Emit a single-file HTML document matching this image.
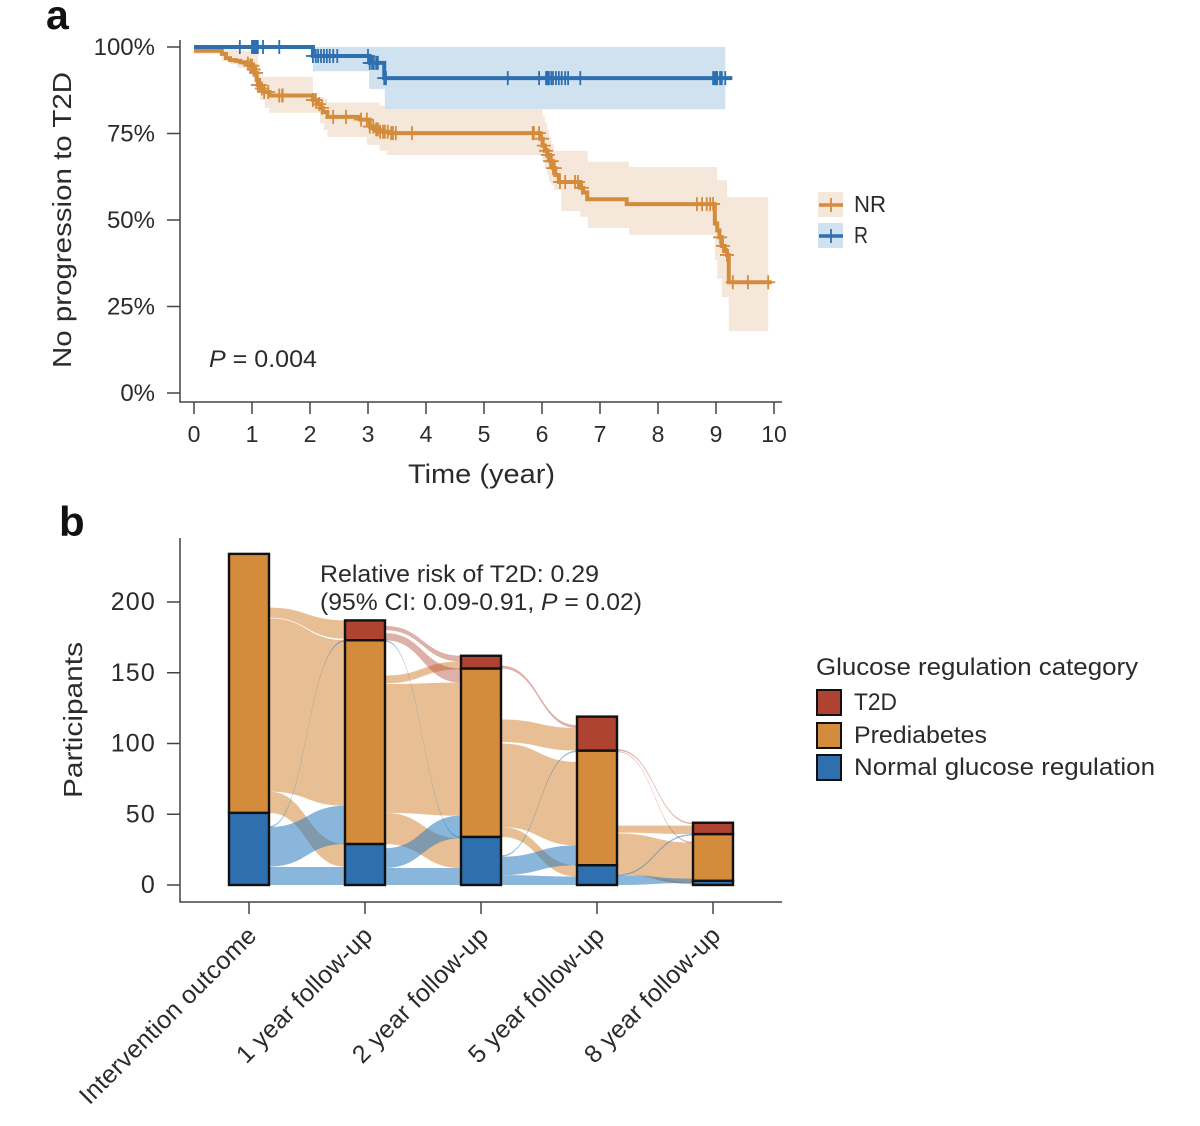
<!DOCTYPE html>
<html>
<head>
<meta charset="utf-8">
<title>T2D progression figure</title>
<style>
html,body{margin:0;padding:0;background:#fff;}
svg{display:block;filter:blur(0.35px);}
text{font-family:"Liberation Sans",sans-serif;fill:#2b2b2b;}
</style>
</head>
<body>
<svg id="fig" xmlns="http://www.w3.org/2000/svg" width="1200" height="1126" viewBox="0 0 1200 1126">
  <rect width="1200" height="1126" fill="#fff"/>
  <g id="bandsA"></g>
  <g id="linesA"></g>
  <g id="axesA"></g>
  <g id="flowsB"></g>
  <g id="barsB"></g>
  <g id="axesB"></g>

  <text x="46" y="29" font-size="41" font-weight="bold" style="fill:#111">a</text>
  <text x="59" y="536" font-size="42" font-weight="bold" style="fill:#111">b</text>

  <text transform="translate(71,368) rotate(-90)" font-size="26" textLength="296" lengthAdjust="spacingAndGlyphs">No progression to T2D</text>
  <text x="408" y="483" font-size="27" textLength="147" lengthAdjust="spacingAndGlyphs">Time (year)</text>
  <text x="209" y="367" font-size="24" textLength="108" lengthAdjust="spacingAndGlyphs"><tspan font-style="italic">P</tspan> = 0.004</text>

  <g>
    <g>
      <rect x="818" y="192" width="25" height="25" fill="#f5e8da"/>
      <line x1="819" y1="205" x2="843" y2="205" stroke="#d58b3c" stroke-width="3.6"/>
      <line x1="831" y1="198" x2="831" y2="212" stroke="#d58b3c" stroke-width="1.8"/>
      <text x="854" y="212" font-size="23" textLength="32" lengthAdjust="spacingAndGlyphs">NR</text>
    </g>
    <g>
      <rect x="818" y="223" width="25" height="25" fill="#d0e1ef"/>
      <line x1="819" y1="236" x2="843" y2="236" stroke="#2e6fb0" stroke-width="3.6"/>
      <line x1="831" y1="229" x2="831" y2="243" stroke="#2e6fb0" stroke-width="1.8"/>
      <text x="854" y="243" font-size="23" textLength="14" lengthAdjust="spacingAndGlyphs">R</text>
    </g>
  </g>

  <text transform="translate(82,798) rotate(-90)" font-size="26" textLength="156" lengthAdjust="spacingAndGlyphs">Participants</text>
  <text x="320" y="582" font-size="24" textLength="279" lengthAdjust="spacingAndGlyphs">Relative risk of T2D: 0.29</text>
  <text x="320" y="610" font-size="24" textLength="322" lengthAdjust="spacingAndGlyphs">(95% CI: 0.09-0.91, <tspan font-style="italic">P</tspan> = 0.02)</text>

  <g>
    <text x="816" y="675" font-size="24" textLength="322" lengthAdjust="spacingAndGlyphs">Glucose regulation category</text>
    <g>
      <rect x="817" y="690" width="24" height="25" fill="#ae4331" stroke="#111" stroke-width="2"/>
      <text x="854" y="710" font-size="24" textLength="43" lengthAdjust="spacingAndGlyphs">T2D</text>
    </g>
    <g>
      <rect x="817" y="723" width="24" height="25" fill="#d58b3c" stroke="#111" stroke-width="2"/>
      <text x="854" y="743" font-size="24" textLength="133" lengthAdjust="spacingAndGlyphs">Prediabetes</text>
    </g>
    <g>
      <rect x="817" y="755" width="24" height="25" fill="#2e6fb0" stroke="#111" stroke-width="2"/>
      <text x="854" y="775" font-size="24" textLength="301" lengthAdjust="spacingAndGlyphs">Normal glucose regulation</text>
    </g>
  </g>
</svg>

<script>
// ---------- Panel a data ----------
const timeTicks = [0,1,2,3,4,5,6,7,8,9,10];
const pctTicks = [0,25,50,75,100];
const nrStepTime = [0,0.48,0.55,0.62,0.72,0.80,0.90,0.97,1.02,1.05,1.08,1.10,1.15,1.20,1.30,2.05,2.12,2.18,2.22,2.30,2.86,3.03,3.12,3.20,3.38,5.97,6.01,6.05,6.10,6.14,6.19,6.23,6.29,6.66,6.71,6.78,7.46,8.98,9.02,9.06,9.10,9.15,9.19,9.22];
const nrStepSurv = [98.9,98,96.8,96.2,96,95.6,95.2,94.6,93.5,92.5,90.5,89,88,87,86,84.7,83.5,82.4,81.2,79.8,79,77,76.2,75.5,75.1,73.5,71.5,70,68.8,67,65,63,61,59.3,58,56,54.6,49,47,45,42.5,41,39.9,32];
const nrEnd = 9.96;
const nrBandTime = [0,0.48,0.62,0.75,1.0,1.10,1.14,1.22,1.30,2.05,2.17,2.24,2.3,2.98,3.2,3.33,5.97,6.01,6.05,6.09,6.12,6.16,6.21,6.33,6.66,6.79,7.5,8.98,9.02,9.10,9.19,9.22];
const nrBandUpper = [100,100,99.5,99,98,95,91.4,91.4,91.4,85.5,85.5,85,84,84,83,82,82,80,78,76,74,72,70,70,70,66.8,65.3,65.3,61.5,61.5,56.6,56.6];
const nrBandLower = [98,96,95,94,91,87,84.7,82.4,81,81,78,76,74,71.7,70,68.8,68.8,67,65,63,61,60,58.7,52.6,50.9,47.7,45.7,38.4,33,27.7,27.7,17.9];
const nrBandEnd = 9.9;
const nrCensor = [0.93,0.97,1.0,1.03,1.07,1.10,1.14,1.17,1.21,1.28,1.47,1.52,1.53,2.05,2.10,2.16,2.21,2.40,2.62,2.88,2.98,3.03,3.09,3.14,3.17,3.21,3.26,3.29,3.34,3.40,3.43,3.48,3.76,5.84,5.86,5.95,6.0,6.03,6.07,6.10,6.14,6.17,6.19,6.22,6.31,6.40,6.57,6.62,6.69,8.67,8.76,8.84,8.90,8.95,9.07,9.12,9.19,9.29,9.55,9.90];

const rStepTime = [0,2.05,3.03,3.28];
const rStepSurv = [100,97.4,95.4,91];
const rEnd = 9.28;
const rBandTime = [2.05,3.02,3.29];
const rBandUpper = [100,100,100];
const rBandLower = [93,87.9,82];
const rBandEnd = 9.16;
const rCensor = [0.79,1.0,1.02,1.03,1.05,1.07,1.09,1.10,1.19,1.47,2.05,2.10,2.14,2.19,2.24,2.29,2.34,2.40,2.47,3.0,3.03,3.07,3.10,3.14,3.17,3.28,3.31,5.41,5.95,6.07,6.09,6.10,6.12,6.16,6.19,6.24,6.29,6.34,6.40,6.45,6.66,8.95,8.98,9.0,9.02,9.07,9.10,9.16];

// ---------- Panel b data ----------
const stageLabels = ['Intervention outcome','1 year follow-up','2 year follow-up','5 year follow-up','8 year follow-up'];
const countTicks = [0,50,100,150,200];
const normalCounts = [51,29,34,14,3];
const prediabetesCounts = [183,144,119,81,33];
const t2dCounts = [0,14,9,24,8];

// flows in participant-axis units: starting stage, category, source span, target span
const flowStage =  [0,0,0, 1,1,1,1, 2,2,2, 3,3,3,3,  0,0, 1,1, 2,2, 3, 1,1, 2, 3,3, 0,1,2,3];
const flowCat =    ['p','p','p', 'p','p','p','p', 'p','p','p', 'p','p','p','p',  'n','n', 'n','n', 'n','n', 'n', 'r','r', 'r','r','r', 'l','l','l','l'];
const flowSrcTop = [196,188.5,66, 148,142,51,143, 117,100,41, 42,36.5,16,9,  41,12.7, 26,12, 20,7, 7, 183,178, 155,96,94.5, 41.5,173,21,7.5];
const flowSrcBot = [189,66,51, 143,51,29,142.5, 101,41,34, 37,16,9,7.5,  13,0, 12,0, 7,0, 0, 180,173, 153,95,94, 40.5,172,20,6.5];
const flowDstTop = [187,173,29, 158,143,33,153, 111,87,14, 42,30,4,2,  56,12.7, 49,12, 28,6, 4.5, 162,153, 113,44,30.5, 173,34,95,36];
const flowDstBot = [174,56,13, 153,49,12,152.5, 95,28,6, 36,4,1,0.5,  29,0, 33,0, 14,0, 1.5, 158,143, 111,43,29.5, 172,33,94,35];

// ---------- Scales ----------
const NS = 'http://www.w3.org/2000/svg';
const xA = t => 194 + 58 * t;
const yA = p => 393 - 3.46 * p;
const xB = i => 249 + 116 * i;
const yB = v => 885 - 1.415 * v;
const BAR_W = 40;

function make(parent, tag, props) {
  const el = document.createElementNS(NS, tag);
  for (const k in props) el.setAttribute(k, props[k]);
  parent.appendChild(el);
  return el;
}
const bandsA = document.getElementById('bandsA');
const linesA = document.getElementById('linesA');
const axesA = document.getElementById('axesA');
const flowsB = document.getElementById('flowsB');
const barsB = document.getElementById('barsB');
const axesB = document.getElementById('axesB');
const AXIS = '#444';

// ---------- Panel a ----------
function bandPath(times, upper, lower, end) {
  let d = 'M' + xA(times[0]) + ',' + yA(upper[0]);
  for (let i = 1; i < times.length; i++) {
    d += 'H' + xA(times[i]) + 'V' + yA(upper[i]);
  }
  d += 'H' + xA(end) + 'V' + yA(lower[lower.length - 1]);
  for (let i = times.length - 1; i > 0; i--) {
    d += 'H' + xA(times[i]) + 'V' + yA(lower[i - 1]);
  }
  d += 'H' + xA(times[0]) + 'Z';
  return d;
}
function stepPath(times, surv, end) {
  let d = 'M' + xA(times[0]) + ',' + yA(surv[0]);
  for (let i = 1; i < times.length; i++) {
    d += 'H' + xA(times[i]) + 'V' + yA(surv[i]);
  }
  return d + 'H' + xA(end);
}
function survAt(t, times, surv) {
  let s = surv[0];
  for (let i = 0; i < times.length; i++) if (times[i] <= t) s = surv[i];
  return s;
}

const nrBand = make(bandsA, 'path', {d: bandPath(nrBandTime, nrBandUpper, nrBandLower, nrBandEnd), fill: '#f5e8da'});


const rBand = make(bandsA, 'path', {d: bandPath(rBandTime, rBandUpper, rBandLower, rBandEnd), fill: '#d0e1ef'});



function drawCensor(list, times, surv, color, name) {
  for (const t of list) {
    const s = survAt(t, times, surv);
    const mark = make(linesA, 'path', {
      d: 'M' + xA(t) + ',' + (yA(s) - 7) + 'v14M' + (xA(t) - 7) + ',' + yA(s) + 'h14',
      stroke: color, 'stroke-width': 1.8, fill: 'none'
    });
    
    
  }
}
drawCensor(nrCensor, nrStepTime, nrStepSurv, '#d58b3c', 'nr-censor-mark');
const nrLine = make(linesA, 'path', {d: stepPath(nrStepTime, nrStepSurv, nrEnd), fill: 'none', stroke: '#d58b3c', 'stroke-width': 4});


drawCensor(rCensor, rStepTime, rStepSurv, '#2e6fb0', 'r-censor-mark');
const rLine = make(linesA, 'path', {d: stepPath(rStepTime, rStepSurv, rEnd), fill: 'none', stroke: '#2e6fb0', 'stroke-width': 4});



const yAxisA = make(axesA, 'line', {x1: 180, y1: 40, x2: 180, y2: 402, stroke: AXIS, 'stroke-width': 1.5});


const xAxisA = make(axesA, 'line', {x1: 179.3, y1: 402, x2: 782, y2: 402, stroke: AXIS, 'stroke-width': 1.5});


for (const p of pctTicks) {
  const tick = make(axesA, 'line', {x1: 167, y1: yA(p), x2: 180, y2: yA(p), stroke: AXIS, 'stroke-width': 1.5});
  
  
  const label = make(axesA, 'text', {x: 155, y: yA(p) + 8, 'text-anchor': 'end', 'font-size': 24});
  
  
  label.textContent = p + '%';
}
for (const t of timeTicks) {
  const tick = make(axesA, 'line', {x1: xA(t), y1: 402, x2: xA(t), y2: 414, stroke: AXIS, 'stroke-width': 1.5});
  
  
  const label = make(axesA, 'text', {x: xA(t), y: 442, 'text-anchor': 'middle', 'font-size': 23});
  
  
  label.textContent = t;
}

// ---------- Panel b ----------
const flowFill = {
  p: {fill: '#d58b3c', op: 0.55},
  n: {fill: '#2a7abd', op: 0.55},
  r: {fill: '#ae4331', op: 0.42},
  l: {fill: '#2a7abd', op: 0.5}
};
const flowNames = {p: 'prediabetes-flow', n: 'normal-flow', r: 't2d-flow', l: 'thin-normal-flow'};
for (let i = 0; i < flowStage.length; i++) {
  const x0 = xB(flowStage[i]) + BAR_W / 2;
  const x1 = xB(flowStage[i] + 1) - BAR_W / 2;
  const mid = (x0 + x1) / 2;
  const a = yB(flowSrcTop[i]), b = yB(flowSrcBot[i]), c = yB(flowDstTop[i]), e = yB(flowDstBot[i]);
  const d = 'M' + x0 + ',' + a + 'C' + mid + ',' + a + ' ' + mid + ',' + c + ' ' + x1 + ',' + c +
            'V' + e + 'C' + mid + ',' + e + ' ' + mid + ',' + b + ' ' + x0 + ',' + b + 'Z';
  const style = flowFill[flowCat[i]];
  const flow = make(flowsB, 'path', {d: d, fill: style.fill, 'fill-opacity': style.op});
  
  
}
stageLabels.forEach(function (name, i) {
  const x = xB(i) - BAR_W / 2;
  let base = 0;
  const parts = [
    [normalCounts[i], '#2e6fb0'],
    [prediabetesCounts[i], '#d58b3c'],
    [t2dCounts[i], '#ae4331']
  ];
  for (const part of parts) {
    if (part[0] > 0) {
      const seg = make(barsB, 'rect', {x: x, y: yB(base + part[0]), width: BAR_W, height: yB(base) - yB(base + part[0]), fill: part[1], stroke: '#111', 'stroke-width': 2.4});
      
      
    }
    base += part[0];
  }
});

const yAxisB = make(axesB, 'line', {x1: 180, y1: 538, x2: 180, y2: 902, stroke: AXIS, 'stroke-width': 1.5});


const xAxisB = make(axesB, 'line', {x1: 179.3, y1: 902, x2: 782, y2: 902, stroke: AXIS, 'stroke-width': 1.5});


for (const v of countTicks) {
  const tick = make(axesB, 'line', {x1: 167, y1: yB(v), x2: 180, y2: yB(v), stroke: AXIS, 'stroke-width': 1.5});
  
  
  const label = make(axesB, 'text', {x: 156, y: yB(v) + 8, 'text-anchor': 'end', 'font-size': 25, 'letter-spacing': 1.2});
  
  
  label.textContent = v;
}
stageLabels.forEach(function (name, i) {
  const tick = make(axesB, 'line', {x1: xB(i), y1: 902, x2: xB(i), y2: 914, stroke: AXIS, 'stroke-width': 1.5});
  
  
  const label = make(axesB, 'text', {transform: 'translate(' + (xB(i) + 9) + ',937) rotate(-45)', 'text-anchor': 'end', 'font-size': 25, 'letter-spacing': 0.25});
  
  
  label.textContent = name;
});
</script>
</body>
</html>
